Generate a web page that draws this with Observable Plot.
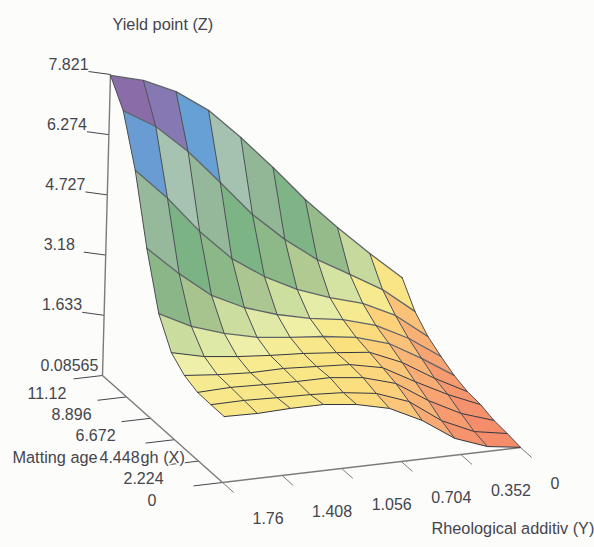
<!DOCTYPE html>
<html><head><meta charset="utf-8">
<script src="https://cdn.jsdelivr.net/npm/d3@7"></script>
<script src="https://cdn.jsdelivr.net/npm/@observablehq/plot@0.6"></script>
<style>html,body{margin:0;padding:0;background:#fcfcfa}svg{display:block}</style>
</head><body><div id="chart"></div>
<script>
// Surface values Z by row of X (first row X=0, last row X=max), each from Y=0 to Y=max
const z0=[.09,.21,.52,1.08,1.49,1.69,1.79,1.79,1.76,1.78];
const z1=[.14,.29,.67,1.26,1.57,1.69,1.74,1.76,1.79,1.78];
const z2=[.17,.45,.88,1.42,1.67,1.77,1.77,1.79,1.82,1.79];
const z3=[.27,.63,1.06,1.52,1.70,1.75,1.80,1.79,1.84,1.92];
const z4=[.30,.74,1.25,1.61,1.70,1.78,1.83,1.90,2.00,2.20];
const z5=[.41,.95,1.43,1.69,1.81,1.89,1.99,2.19,2.47,2.90];
const z6=[.59,1.16,1.59,1.84,1.97,2.17,2.45,2.86,3.52,4.27];
const z7=[.80,1.44,1.85,2.10,2.41,2.84,3.40,4.20,5.15,5.97];
const z8=[1.14,1.80,2.29,2.77,3.39,4.13,5.05,5.95,6.69,7.20];
const z9=[1.70,2.42,3.19,4.01,4.93,5.80,6.60,7.18,7.57,7.80];
const zGrid=[z0,z1,z2,z3,z4,z5,z6,z7,z8,z9];
const xTicks=["0","2.224","4.448","6.672","8.896","11.12"];
const yTicks=["0","0.352","0.704","1.056","1.408","1.76"];
const zTicks=["0.08565","1.633","3.18","4.727","6.274","7.821"];
const xMax=11.12,yMax=1.76,zMin=0.08565,zMax=7.821;
const colorDomain=[0.3,0.8,1.2,1.5,1.7,1.8,1.9,2.0,2.15,2.4,2.75,3.15,4.0,4.6,5.5,5.9,6.2,6.8,7.5];
const colorRange=["#f58d6b","#f7a573","#f9bb78","#fcd07a","#fbe07e","#f8e88a","#f3ed9a","#edf0ac","#dde8a5","#c9dc9e","#a8c48e","#8eb888","#7ab385","#93b797","#a6c3b2","#a6c3b2","#669fd5","#8679b3","#8a68a4"];

// oblique view of the 3D box
function view(X,Y,Z){return{
  px:520-X*120/xMax-Y*298/yMax+(Z-zMin)*8/(zMax-zMin),
  py:447-X*107/xMax+Y*35/yMax-(Z-zMin)*301/(zMax-zMin)};}
const xAt=i=>i*xMax/9, yAt=j=>j*yMax/9;
const cells=[],rowLines=[],colLines=[];
for(let i=8;i>=0;i--)for(let j=0;j<9;j++){
  const c=[[i,j],[i+1,j],[i+1,j+1],[i,j+1],[i,j]];
  const m=d3.mean([[i,j],[i+1,j],[i+1,j+1],[i,j+1]],([a,b])=>zGrid[a][b]);
  for(const [a,b] of c)cells.push({cell:i+"-"+j,m,...view(xAt(a),yAt(b),zGrid[a][b])});
}
for(let i=0;i<10;i++)for(let j=0;j<10;j++){
  const p=view(xAt(i),yAt(j),zGrid[i][j]);
  rowLines.push({i,...p});colLines.push({j,...p});
}
const num=s=>+s;
const zPts=zTicks.map(t=>({t,...view(xMax,yMax,num(t))}));
const xPts=xTicks.map(t=>({t,...view(num(t),yMax,zMin)}));
const xPts0=xTicks.map(t=>({t,a:view(num(t),yMax,zMin),b:view(num(t),yMax+0.171,zMin)}));
const yPts0=yTicks.map(t=>({t,a:view(0,num(t),zMin),b:view(-1.03,num(t),zMin)}));
const zPts0=zTicks.slice(1).map(t=>({t,a:view(xMax,yMax,num(t)),b:view(xMax+0.51,yMax+0.097,num(t))}));
const axisLines=[
 {a:view(xMax,yMax,zMin),b:view(xMax,yMax,zMax)},
 {a:view(xMax,yMax,zMin),b:view(0,yMax,zMin)},
 {a:view(0,yMax,zMin),b:view(0,0,zMin)}];
const grey="#7b7b7b",ink="#45454d",bg="#fcfcfa";
const link=(d,o)=>Plot.link(d,{x1:k=>k.a.px,y1:k=>k.a.py,x2:k=>k.b.px,y2:k=>k.b.py,...o});
const font={fontFamily:"Liberation Sans",fontSize:16,fill:ink,textAnchor:"start"};
const titleFont={...font,fontSize:16.3};
const label=(s,x,y,o)=>Plot.text([s],{x:()=>x,y:()=>y,text:d=>d,...titleFont,...o});
const chart=Plot.plot({
 width:594,height:547,margin:0,
 style:{background:bg},
 x:{domain:[0,594],range:[0,594],axis:null},
 y:{domain:[0,547],range:[0,547],axis:null},
 color:{type:"linear",domain:colorDomain,range:colorRange,clamp:true},
 marks:[
  link(zPts0,{stroke:ink,strokeWidth:1}),
  link(xPts0,{stroke:ink,strokeWidth:1}),
  link(yPts0,{stroke:grey,strokeWidth:1}),
  link(axisLines,{stroke:grey,strokeWidth:1.4}),
  Plot.line(cells,{x:"px",y:"py",z:"cell",fill:"m",stroke:"none"}),
  Plot.line(rowLines,{x:"px",y:"py",z:"i",stroke:d=>d.i>=5?"#5f6468":"#33363f",strokeWidth:d=>d.i>=5?1.3:1}),
  Plot.line(colLines,{x:"px",y:"py",z:"j",stroke:"#4a4d52",strokeWidth:1}),
  label("Yield point (Z)",112,24),
  Plot.text(zPts,{x:"px",y:"py",text:"t",dx:-62,dy:-10,...font}),
  label("Matting age",12,457),
  label("gh (X)",140,457,{stroke:bg,strokeWidth:3,paintOrder:"stroke"}),
  Plot.text(xPts,{x:"px",y:"py",text:"t",dx:-75,dy:18,...font}),
  Plot.text(yTicks.map(t=>({t,...view(0,num(t),zMin)})),{x:"px",y:"py",text:"t",dx:30,dy:36,...font}),
  label("Rheological additiv (Y)",431,528)
 ]});
document.getElementById("chart").append(chart);
</script></body></html>
